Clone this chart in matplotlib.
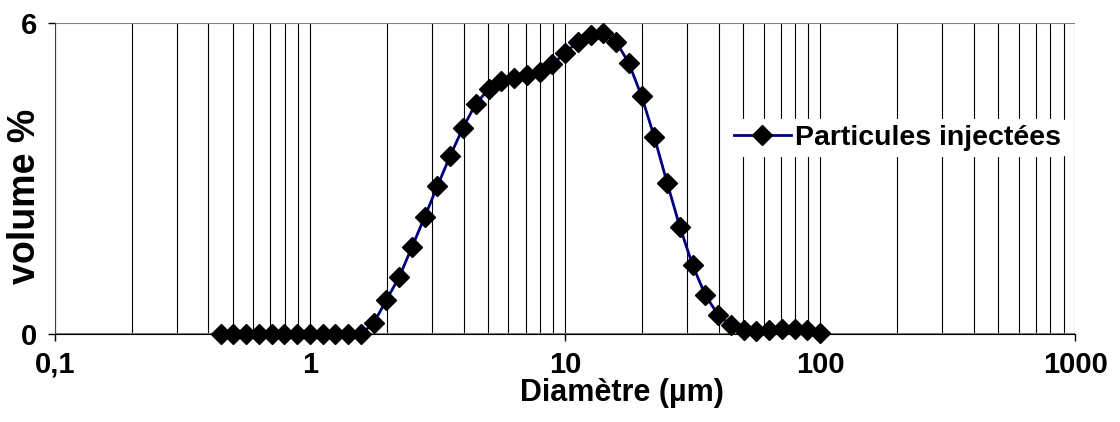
import matplotlib.pyplot as plt
from matplotlib.ticker import FixedLocator, LogLocator, NullFormatter

plt.rcParams['font.family'] = ['Liberation Sans', 'DejaVu Sans']
plt.rcParams['font.weight'] = 'bold'

# particle size classes (µm) and volume fraction (%)
diametre = [0.447, 0.501, 0.562, 0.631, 0.708, 0.794, 0.891, 1.0, 1.122, 1.259,
            1.413, 1.585, 1.778, 1.995, 2.239, 2.512, 2.818, 3.162, 3.548, 3.981,
            4.467, 5.012, 5.623, 6.310, 7.079, 7.943, 8.913, 10.0, 11.22, 12.59,
            14.13, 15.85, 17.78, 19.95, 22.39, 25.12, 28.18, 31.62, 35.48, 39.81,
            44.67, 50.12, 56.23, 63.10, 70.79, 79.43, 89.13, 100.0]
volume = [0, 0, 0, 0, 0, 0, 0, 0, 0, 0,
          0, 0, 0.21, 0.66, 1.10, 1.68, 2.26, 2.86, 3.44, 3.98,
          4.44, 4.72, 4.88, 4.94, 5.00, 5.06, 5.20, 5.42, 5.64, 5.77,
          5.81, 5.64, 5.23, 4.59, 3.80, 2.92, 2.07, 1.33, 0.75, 0.37,
          0.17, 0.07, 0.06, 0.08, 0.09, 0.10, 0.08, 0.02]

x_ticks = [0.1, 1, 10, 100, 1000]
x_labels = ['0,1', '1', '10', '100', '1000']

fig = plt.figure(figsize=(11.2, 4.22), dpi=100)
ax = fig.add_axes([0.049, 0.2085, 0.911, 0.737])

ax.plot(diametre, volume, color='#000080', lw=2, marker='D', markersize=10,
        markerfacecolor='black', markeredgecolor='black',
        label='Particules injectées', zorder=3, clip_on=False)

ax.set_xscale('log')
ax.set_xlim(0.1, 1000)
ax.set_ylim(0, 6)

ax.xaxis.set_major_locator(FixedLocator(x_ticks))
ax.set_xticklabels(x_labels)
ax.xaxis.set_minor_locator(LogLocator(base=10, subs=range(2, 10)))
ax.xaxis.set_minor_formatter(NullFormatter())
ax.set_yticks([0, 6])

ax.grid(True, which='both', axis='x', color='black', lw=0.8)
ax.grid(True, which='major', axis='y', color='#808080', lw=1.5)
ax.set_axisbelow(True)

for s in ['top', 'right']:
    ax.spines[s].set_visible(False)
ax.spines['left'].set_color('#404040')
ax.spines['bottom'].set_color('black')

ax.tick_params(axis='both', which='major', labelsize=21, length=5, width=1)
ax.tick_params(axis='x', which='minor', length=0)
ax.tick_params(axis='x', pad=7)
ax.tick_params(axis='y', pad=8)

ax.set_xlabel('Diamètre (µm)', fontsize=22, fontweight='bold')
ax.xaxis.set_label_coords(0.556, -0.19)
ax.xaxis.label.set_va('center')
ax.set_ylabel('volume %', fontsize=27, fontweight='bold')
ax.yaxis.set_label_coords(-0.029, 0.444)
ax.yaxis.label.set_va('center')

leg = ax.legend(loc='center left', bbox_to_anchor=(0.66, 0.63), frameon=True,
                fontsize=20.5, handlelength=2.0, handletextpad=0.15,
                borderpad=0.2, borderaxespad=0)
leg.get_frame().set_edgecolor('none')
leg.get_frame().set_facecolor('white')
leg.get_frame().set_alpha(1)

fig.savefig('out.png', dpi=100)
